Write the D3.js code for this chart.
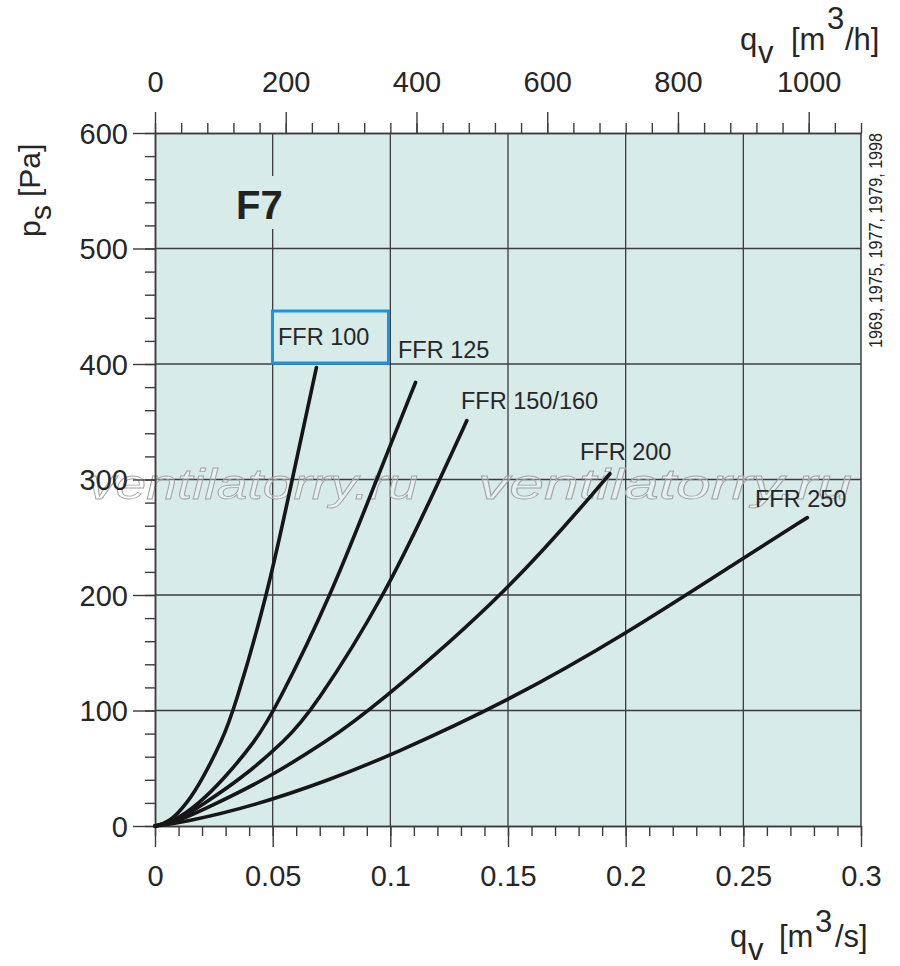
<!DOCTYPE html>
<html>
<head>
<meta charset="utf-8">
<script src="https://cdn.jsdelivr.net/npm/d3@7"></script>
<style>
  body { margin: 0; background: #fff; }
  svg { display: block; font-family: "Liberation Sans", Arial, sans-serif; }
</style>
</head>
<body>
<svg id="chart" width="900" height="966"></svg>
<script>
// flow in m3/s, static pressure in Pa
const ffr100 = [[0, 0], [0.006, 3], [0.0134, 19], [0.02, 40], [0.0285, 74], [0.0335, 100], [0.0478, 200], [0.0583, 300], [0.0686, 397]];
const ffr125 = [[0, 0], [0.008, 4], [0.0185, 19], [0.029, 40], [0.0428, 74], [0.0508, 100], [0.075, 200], [0.0941, 300], [0.1107, 384]];
const ffr150 = [[0, 0], [0.009, 4], [0.0205, 19], [0.036, 40], [0.0555, 74], [0.0669, 100], [0.098, 200], [0.121, 300], [0.1325, 351]];
const ffr200 = [[0, 0], [0.01, 4], [0.0255, 19], [0.0467, 40], [0.0735, 74], [0.0915, 100], [0.15, 202], [0.1933, 305]];
const ffr250 = [[0, 0], [0.012, 3], [0.043, 18], [0.0743, 40], [0.1, 61], [0.15, 108], [0.2, 166], [0.25, 232], [0.2772, 267]];

const curveNames = ["FFR 100", "FFR 125", "FFR 150/160", "FFR 200", "FFR 250"];

// tick values
const qsMajor = [0, 0.05, 0.1, 0.15, 0.2, 0.25, 0.3];
const qsMinor = d3.range(0, 31).map(i => i / 100);
const qhMajor = [0, 200, 400, 600, 800, 1000];
const qhMinor = d3.range(0, 28).map(i => i * 40);
const psMajor = [0, 100, 200, 300, 400, 500, 600];
const psMinor = d3.range(0, 31).map(i => i * 20);

const svg = d3.select("#chart");

const x = d3.scaleLinear().domain([0, 0.3]).range([155, 861]);
const xh = d3.scaleLinear().domain([0, 1080]).range([155, 861]);
const y = d3.scaleLinear().domain([0, 600]).range([826, 133]);

const ink = "#262626";
const gridCol = "#3c3c3c";

// plot background
svg.append("rect")
  .attr("x", x(0)).attr("y", y(600))
  .attr("width", x(0.3) - x(0)).attr("height", y(0) - y(600))
  .attr("fill", "#d7ebe9");

// GRID
svg.append("g")
  .selectAll("line")
  .data(qsMajor.slice(1, -1))
  .join("line")
  .attr("x1", d => x(d)).attr("x2", d => x(d))
  .attr("y1", y(0)).attr("y2", y(600))
  .attr("stroke", gridCol).attr("stroke-width", 1.3);

svg.append("g")
  .selectAll("line")
  .data(psMajor.slice(1, -1))
  .join("line")
  .attr("x1", x(0)).attr("x2", x(0.3))
  .attr("y1", d => y(d)).attr("y2", d => y(d))
  .attr("stroke", gridCol).attr("stroke-width", 1.3);

// right border
svg.append("line")
  .attr("x1", x(0.3)).attr("x2", x(0.3))
  .attr("y1", y(0)).attr("y2", y(600))
  .attr("stroke", gridCol).attr("stroke-width", 1.5);

// WATERMARK
const wm = svg.append("g")
  .attr("font-size", 42).attr("font-style", "italic")
  .attr("fill", "rgba(255,255,255,0.3)").attr("stroke", "#a3a3a3").attr("stroke-width", 0.8);
wm.append("text").attr("x", 88).attr("y", 499).attr("textLength", 330).attr("lengthAdjust", "spacingAndGlyphs").text("ventilatorry.ru");
wm.append("text").attr("x", 478).attr("y", 499).attr("textLength", 374).attr("lengthAdjust", "spacingAndGlyphs").text("ventilatorry.ru");

// AXES
function styleAxis(g) {
  g.selectAll("path.domain").attr("stroke", gridCol).attr("stroke-width", 1.5);
  g.selectAll(".tick line").attr("stroke", gridCol).attr("stroke-width", 1.4);
  g.selectAll("text").attr("font-size", 29).attr("fill", ink).attr("font-family", null);
}

// bottom: m3/s
svg.append("g").attr("transform", `translate(0,${y(0)})`)
  .call(d3.axisBottom(x).tickValues(qsMinor).tickSize(10).tickSizeOuter(0).tickFormat(""))
  .call(styleAxis);
svg.append("g").attr("transform", `translate(0,${y(0)})`)
  .call(d3.axisBottom(x).tickValues(qsMajor).tickSize(21).tickSizeOuter(0).tickFormat(d => String(+d.toFixed(2))))
  .call(styleAxis)
  .call(g => g.selectAll("text").attr("y", 60).attr("dy", 0));

// left: Pa
svg.append("g").attr("transform", `translate(${x(0)},0)`)
  .call(d3.axisLeft(y).tickValues(psMinor).tickSize(10).tickSizeOuter(0).tickFormat(""))
  .call(styleAxis);
svg.append("g").attr("transform", `translate(${x(0)},0)`)
  .call(d3.axisLeft(y).tickValues(psMajor).tickSize(22).tickPadding(5).tickSizeOuter(0).tickFormat(d3.format("d")))
  .call(styleAxis)
  .call(g => g.selectAll("text").attr("dy", "0.36em"));

// top: m3/h
svg.append("g").attr("transform", `translate(0,${y(600)})`)
  .call(d3.axisTop(xh).tickValues(qhMinor).tickSize(10).tickSizeOuter(0).tickFormat(""))
  .call(styleAxis);
svg.append("g").attr("transform", `translate(0,${y(600)})`)
  .call(d3.axisTop(xh).tickValues(qhMajor).tickSize(21).tickSizeOuter(0).tickFormat(d3.format("d")))
  .call(styleAxis)
  .call(g => g.selectAll("text").attr("y", -41).attr("dy", 0));

// CURVES
const line = d3.line()
  .x(d => x(d[0]))
  .y(d => y(d[1]))
  .curve(d3.curveBasis);

svg.append("g")
  .selectAll("path")
  .data([ffr100, ffr125, ffr150, ffr200, ffr250])
  .join("path")
  .attr("d", line)
  .attr("fill", "none")
  .attr("stroke", "#161616")
  .attr("stroke-width", 3.6)
  .attr("stroke-linecap", "round");

// curve labels
const labelPos = [[278, 345], [398, 358], [461, 409], [580, 460], [755, 507]];
svg.append("g")
  .selectAll("text")
  .data(curveNames)
  .join("text")
  .attr("x", (d, i) => labelPos[i][0])
  .attr("y", (d, i) => labelPos[i][1])
  .attr("font-size", 23.5)
  .attr("fill", ink)
  .text(d => d);

// blue highlight box round FFR 100
svg.append("rect")
  .attr("x", 272.5).attr("y", 311)
  .attr("width", 116).attr("height", 52)
  .attr("fill", "none")
  .attr("stroke", "#1b93e2")
  .attr("stroke-width", 3);

// F7 tag, masking the grid line behind it
svg.append("rect")
  .attr("x", 232).attr("y", 176).attr("width", 58).attr("height", 53)
  .attr("fill", "#d7ebe9");
svg.append("text")
  .attr("x", 236).attr("y", 219)
  .attr("font-size", 40).attr("font-weight", "bold")
  .attr("fill", "#222")
  .text("F7");

// AXIS TITLES
const topTitle = svg.append("text").attr("font-size", 31).attr("fill", ink);
topTitle.append("tspan").attr("x", 740).attr("y", 50).text("q");
topTitle.append("tspan").attr("x", 758).attr("y", 63).text("v");
topTitle.append("tspan").attr("x", 791).attr("y", 50).text("[m");
topTitle.append("tspan").attr("x", 827).attr("y", 29).text("3");
topTitle.append("tspan").attr("x", 845).attr("y", 50).text("/h]");

const bottomTitle = svg.append("text").attr("font-size", 31).attr("fill", ink);
bottomTitle.append("tspan").attr("x", 730).attr("y", 947).text("q");
bottomTitle.append("tspan").attr("x", 748).attr("y", 960).text("v");
bottomTitle.append("tspan").attr("x", 779).attr("y", 947).text("[m");
bottomTitle.append("tspan").attr("x", 815).attr("y", 932).text("3");
bottomTitle.append("tspan").attr("x", 835).attr("y", 947).text("/s]");

const leftTitle = svg.append("text")
  .attr("transform", "translate(40,237) rotate(-90)")
  .attr("font-size", 30).attr("fill", ink);
leftTitle.append("tspan").attr("x", 0).attr("y", 0).text("p");
leftTitle.append("tspan").attr("x", 17).attr("y", 11).text("s");
leftTitle.append("tspan").attr("x", 40).attr("y", 0).text("[Pa]");

// years, right side
svg.append("text")
  .attr("transform", "translate(882,348) rotate(-90)")
  .attr("font-size", 19)
  .attr("fill", ink)
  .attr("textLength", 215)
  .attr("lengthAdjust", "spacingAndGlyphs")
  .text("1969, 1975, 1977, 1979, 1998");
</script>
</body>
</html>
